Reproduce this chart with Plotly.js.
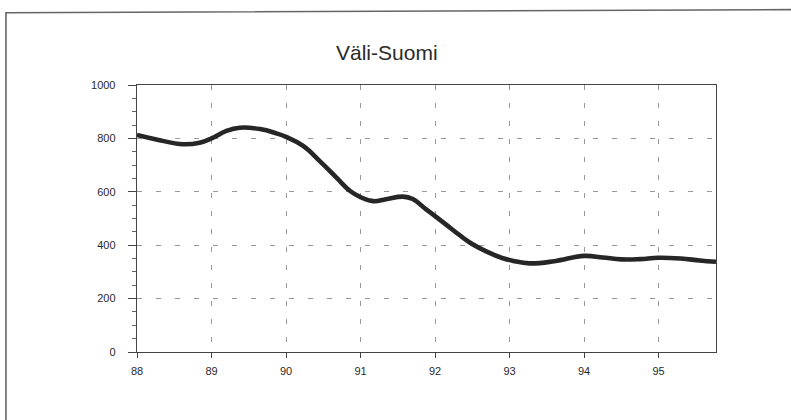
<!DOCTYPE html>
<html>
<head>
<meta charset="utf-8">
<script src="https://cdn.plot.ly/plotly-3.0.1.min.js"></script>
<style>
html,body{margin:0;padding:0;background:#fff;}
#chart{width:791px;height:420px;}
</style>
</head>
<body>
<div id="chart"></div>
<script>
// Data (year as decimal, two-digit years)
const years = [88.0, 88.26, 88.62, 88.84, 89.0, 89.2, 89.38, 89.65, 89.87, 90.0, 90.23, 90.46, 90.68, 90.86, 91.0, 91.17, 91.34, 91.57, 91.7, 91.88, 92.0, 92.24, 92.46, 92.7, 92.9, 93.05, 93.27, 93.6, 94.0, 94.25, 94.5, 94.75, 95.0, 95.3, 95.55, 95.77];
const values = [813, 796, 778, 784, 800, 828, 840, 835, 819, 806, 772, 713, 652, 603, 580, 565, 572, 582, 573, 534, 509, 457, 411, 375, 352, 341, 332, 340, 360, 354, 347, 348, 353, 350, 343, 338];
const xTicks = [88, 89, 90, 91, 92, 93, 94, 95];
const xTickLabels = ["88", "89", "90", "91", "92", "93", "94", "95"];
const yTicks = [0, 200, 400, 600, 800, 1000];
const titleText = "Väli-Suomi";

const trace = {
  x: years,
  y: values,
  type: 'scatter',
  mode: 'lines',
  line: {color: '#262626', width: 4.6, shape: 'spline', smoothing: 1.2},
  hoverinfo: 'skip'
};

const font = {family: '"Liberation Sans", Arial, sans-serif', color: '#333'};

const layout = {
  width: 791,
  height: 420,
  margin: {l: 137, r: 75, t: 85, b: 68},
  paper_bgcolor: '#fff',
  plot_bgcolor: '#fff',
  showlegend: false,
  font: font,
  title: {
    text: titleText,
    font: {family: font.family, size: 21, color: '#2a2a2a'},
    xref: 'container', x: 0.489, xanchor: 'center',
    yref: 'container', y: 0.874, yanchor: 'middle'
  },
  xaxis: {
    range: [88, 95.77],
    tickvals: xTicks,
    ticktext: xTickLabels,
    ticks: 'outside', ticklen: 5, tickwidth: 1, tickcolor: '#444',
    showline: true, linecolor: '#444', linewidth: 1.3, mirror: true,
    showgrid: true, gridcolor: '#999', gridwidth: 1, griddash: '5px,13px',
    zeroline: false,
    ticklabelstandoff: 3,
    tickfont: {family: font.family, size: 11, color: '#2a2a2a'}
  },
  yaxis: {
    range: [0, 1000],
    tickvals: yTicks,
    ticks: 'outside', ticklen: 8, tickwidth: 1, tickcolor: '#444',
    minor: {dtick: 50, ticks: 'outside', ticklen: 4, tickcolor: '#666', showgrid: false},
    showline: true, linecolor: '#444', linewidth: 1.3, mirror: true,
    showgrid: true, gridcolor: '#999', gridwidth: 1, griddash: '5px,14px',
    zeroline: false,
    ticklabelstandoff: 10,
    tickfont: {family: font.family, size: 11, color: '#2a2a2a'}
  },
  shapes: [
    {type: 'path', xref: 'paper', yref: 'paper',
     path: 'M -0.2263 -0.4 L -0.2263 1.2708 L 1.2 1.283',
     line: {color: '#666', width: 1.6}, layer: 'below'}
  ]
};

Plotly.newPlot('chart', [trace], layout, {staticPlot: true, displayModeBar: false});
</script>
</body>
</html>
